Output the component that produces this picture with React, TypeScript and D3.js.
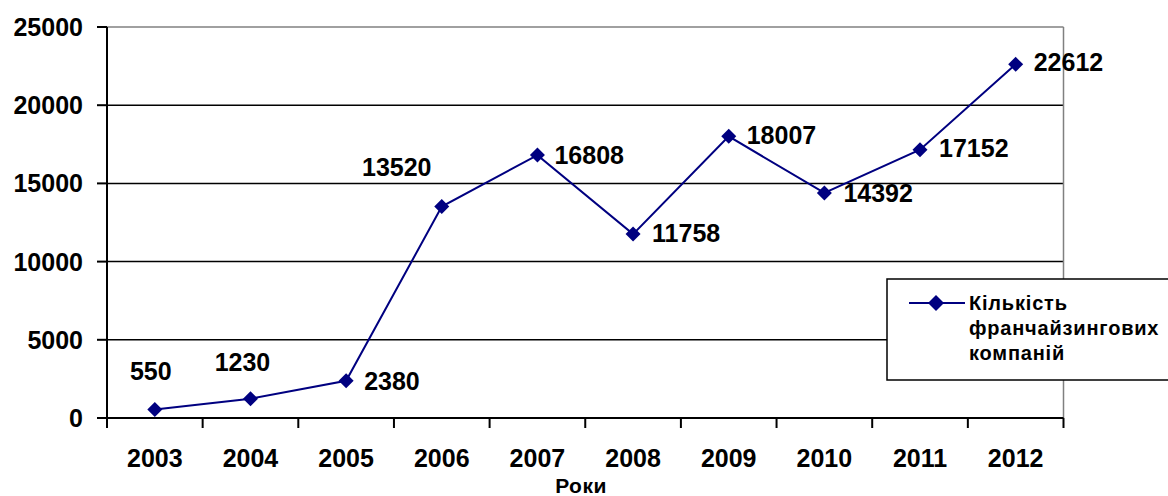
import React from "react";
import * as d3 from "d3";

// Number of franchise companies in Ukraine by year
const years: string[] = ["2003", "2004", "2005", "2006", "2007", "2008", "2009", "2010", "2011", "2012"];
const companies: number[] = [550, 1230, 2380, 13520, 16808, 11758, 18007, 14392, 17152, 22612];
const yTicks: number[] = [0, 5000, 10000, 15000, 20000, 25000];
const seriesName: string[] = ["Кількість", "франчайзингових", "компаній"];
const xAxisTitle = "Роки";

// Label placement relative to each point: [dx, dy, text-anchor]
const labelPlacement: [number, number, string][] = [
  [-4, -29, "middle"],
  [-8, -28, "middle"],
  [18, 9, "start"],
  [-45, -31, "middle"],
  [17, 9, "start"],
  [19, 8, "start"],
  [18, 8, "start"],
  [19, 9, "start"],
  [19, 7, "start"],
  [18, 7, "start"],
];

const W = 1168;
const H = 496;
const FONT = "Arial, 'Liberation Sans', sans-serif";
const NAVY = "#000080";

const left = 107;
const right = 1063.5;
const top = 27;
const bottom = 418;

function diamond(cx: number, cy: number, r: number) {
  return `M${cx},${cy - r}L${cx + r},${cy}L${cx},${cy + r}L${cx - r},${cy}Z`;
}

export default function App() {
  const x = d3.scaleBand<string>().domain(years).range([left, right]).padding(0);
  const y = d3.scaleLinear().domain([0, 25000]).range([bottom, top]);
  const cx = (yr: string) => (x(yr) as number) + x.bandwidth() / 2;

  const line = d3
    .line<number>()
    .x((_, i) => cx(years[i]))
    .y((d) => y(d));

  const boundaries = years.map((yr) => x(yr) as number).concat([right]);

  return (
    <svg
      width={W}
      height={H}
      style={{ position: "absolute", left: 0, top: 0, background: "#fff" }}
      fontFamily={FONT}
    >
      <rect x={0} y={0} width={W} height={H} fill="#fff" />

      {/* gridlines */}
      {yTicks.slice(1, -1).map((t) => (
        <line key={t} x1={left} x2={right} y1={y(t)} y2={y(t)} stroke="#000" strokeWidth={1.5} />
      ))}
      {/* plot area border */}
      <line x1={left} x2={right} y1={y(25000)} y2={y(25000)} stroke="#808080" strokeWidth={1.5} />
      <line x1={right} x2={right} y1={top} y2={bottom} stroke="#808080" strokeWidth={1.5} />

      {/* y axis */}
      <line x1={left} x2={left} y1={top} y2={bottom} stroke="#000" strokeWidth={2} />
      {yTicks.map((t) => (
        <g key={t}>
          <line x1={97} x2={left} y1={y(t)} y2={y(t)} stroke="#000" strokeWidth={2} />
          <text x={83} y={y(t) + 9} textAnchor="end" fontSize={25} fontWeight="bold" fill="#000">
            {t}
          </text>
        </g>
      ))}

      {/* x axis */}
      <line x1={left} x2={right} y1={bottom} y2={bottom} stroke="#000" strokeWidth={2} />
      {boundaries.map((b, i) => (
        <line key={i} x1={b} x2={b} y1={bottom} y2={bottom + 10} stroke="#000" strokeWidth={2} />
      ))}
      {years.map((yr) => (
        <text key={yr} x={cx(yr)} y={466.5} textAnchor="middle" fontSize={25} fontWeight="bold" fill="#000">
          {yr}
        </text>
      ))}
      <text x={581} y={493} textAnchor="middle" fontSize={21} fontWeight="bold" fill="#000" letterSpacing={0.5}>
        {xAxisTitle}
      </text>

      {/* series */}
      <path d={line(companies) || ""} fill="none" stroke={NAVY} strokeWidth={2} />
      {companies.map((v, i) => (
        <path key={i} d={diamond(cx(years[i]), y(v), 7.5)} fill={NAVY} />
      ))}
      {companies.map((v, i) => {
        const [dx, dy, anchor] = labelPlacement[i];
        return (
          <text
            key={i}
            x={cx(years[i]) + dx}
            y={y(v) + dy}
            textAnchor={anchor}
            fontSize={25}
            fontWeight="bold"
            fill="#000"
          >
            {v}
          </text>
        );
      })}

      {/* legend */}
      <rect x={887} y={279} width={300} height={101} fill="#fff" stroke="#000" strokeWidth={1.5} />
      <line x1={909} x2={965} y1={303} y2={303} stroke={NAVY} strokeWidth={2} />
      <path d={diamond(936, 303, 8)} fill={NAVY} />
      {seriesName.map((s, i) => (
        <text key={s} x={969} y={310 + i * 25} fontSize={20} fontWeight="bold" fill="#000" letterSpacing={0.8}>
          {s}
        </text>
      ))}
    </svg>
  );
}
